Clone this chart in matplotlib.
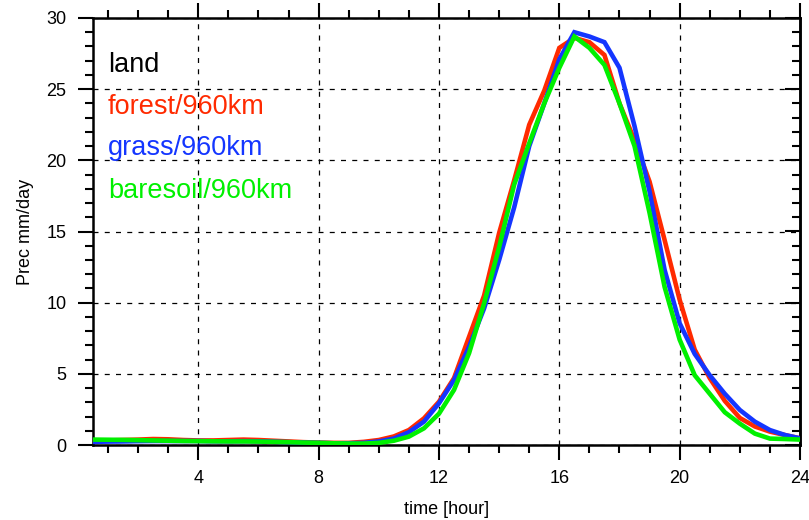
import numpy as np
import matplotlib
matplotlib.use("Agg")
import matplotlib.pyplot as plt
from matplotlib.ticker import MultipleLocator

plt.rcParams['font.family'] = ['Liberation Sans', 'DejaVu Sans']

# half-hourly diurnal precipitation (mm/day)
hours = [0.5 * i for i in range(1, 49)]

forest = [0.30, 0.32, 0.35, 0.38, 0.42, 0.40, 0.35, 0.32, 0.32, 0.35,
          0.38, 0.35, 0.30, 0.25, 0.20, 0.17, 0.15, 0.15, 0.22, 0.35,
          0.60, 1.05, 1.87, 3.04, 4.70, 7.60, 10.5, 14.9, 18.6, 22.5,
          24.9, 27.9, 28.6, 28.3, 27.4, 24.0, 21.4, 18.5, 14.4, 10.2,
          6.7, 4.7, 3.1, 1.9, 1.3, 0.94, 0.70, 0.47]

grass = [0.22, 0.24, 0.25, 0.27, 0.28, 0.28, 0.28, 0.28, 0.26, 0.26,
         0.27, 0.26, 0.23, 0.20, 0.17, 0.15, 0.12, 0.12, 0.15, 0.25,
         0.45, 0.90, 1.64, 2.93, 4.57, 6.9, 9.6, 13.0, 16.7, 21.0,
         24.0, 27.1, 29.0, 28.7, 28.3, 26.5, 22.4, 17.8, 12.3, 8.55,
         6.4, 4.9, 3.6, 2.46, 1.64, 1.05, 0.70, 0.47]

baresoil = [0.38, 0.37, 0.36, 0.34, 0.32, 0.30, 0.28, 0.27, 0.26, 0.25,
            0.25, 0.24, 0.22, 0.20, 0.17, 0.15, 0.12, 0.10, 0.10, 0.15,
            0.30, 0.59, 1.17, 2.2, 3.87, 6.45, 9.95, 13.9, 18.3, 21.2,
            24.0, 26.5, 28.7, 27.9, 26.7, 24.0, 21.0, 16.3, 11.1, 7.4,
            4.9, 3.6, 2.3, 1.5, 0.8, 0.45, 0.42, 0.38]

series = [("forest/960km", forest, "#ff2a00"),
          ("grass/960km", grass, "#1436ff"),
          ("baresoil/960km", baresoil, "#00f000")]

fig = plt.figure(figsize=(8.09, 5.20), dpi=100)
ax = fig.add_axes([93 / 809, 1 - 445 / 520, (800 - 93) / 809, (445 - 18) / 520])

for name, vals, col in series:
    ax.plot(hours, vals, color=col, lw=3.3, solid_joinstyle='miter', zorder=3)

ax.set_xlim(0.5, 24)
ax.set_ylim(0, 30)

ax.xaxis.set_major_locator(MultipleLocator(4))
ax.xaxis.set_minor_locator(MultipleLocator(1))
ax.yaxis.set_major_locator(MultipleLocator(5))
ax.yaxis.set_minor_locator(MultipleLocator(1))

ax.grid(True, which='major', color='black', linestyle=(0, (4, 5)), lw=0.9)
for s in ax.spines.values():
    s.set_linewidth(1.8)

ax.tick_params(axis='x', which='both', direction='out', top=True, bottom=True,
               labelsize=13, width=1.5, pad=7)
ax.tick_params(axis='x', which='major', length=11)
ax.tick_params(axis='x', which='minor', length=6)
ax.tick_params(axis='y', which='both', direction='out', left=True, right=False,
               labelsize=13, width=1.5, pad=8)
ax.tick_params(axis='y', which='major', length=11)
ax.tick_params(axis='y', which='minor', length=6)

# inward-pointing ticks on the right side
rax = ax.secondary_yaxis('right')
rax.yaxis.set_major_locator(MultipleLocator(5))
rax.yaxis.set_minor_locator(MultipleLocator(1))
rax.tick_params(axis='y', which='both', direction='in', width=1.5, labelright=False)
rax.tick_params(axis='y', which='major', length=11)
rax.tick_params(axis='y', which='minor', length=6)
rax.spines['right'].set_linewidth(1.8)

ax.set_xlabel("time [hour]", fontsize=13, labelpad=10)
ax.set_ylabel("Prec mm/day", fontsize=13, labelpad=9)

ax.text(0.021, 0.890, "land", transform=ax.transAxes, fontsize=19.5,
        color='black', va='center', ha='left')
ylabs = [0.792, 0.696, 0.594]
for (name, vals, col), yy in zip(series, ylabs):
    ax.text(0.021, yy, name, transform=ax.transAxes, fontsize=19.5,
            color=col, va='center', ha='left')

fig.savefig("out.png", dpi=100)
